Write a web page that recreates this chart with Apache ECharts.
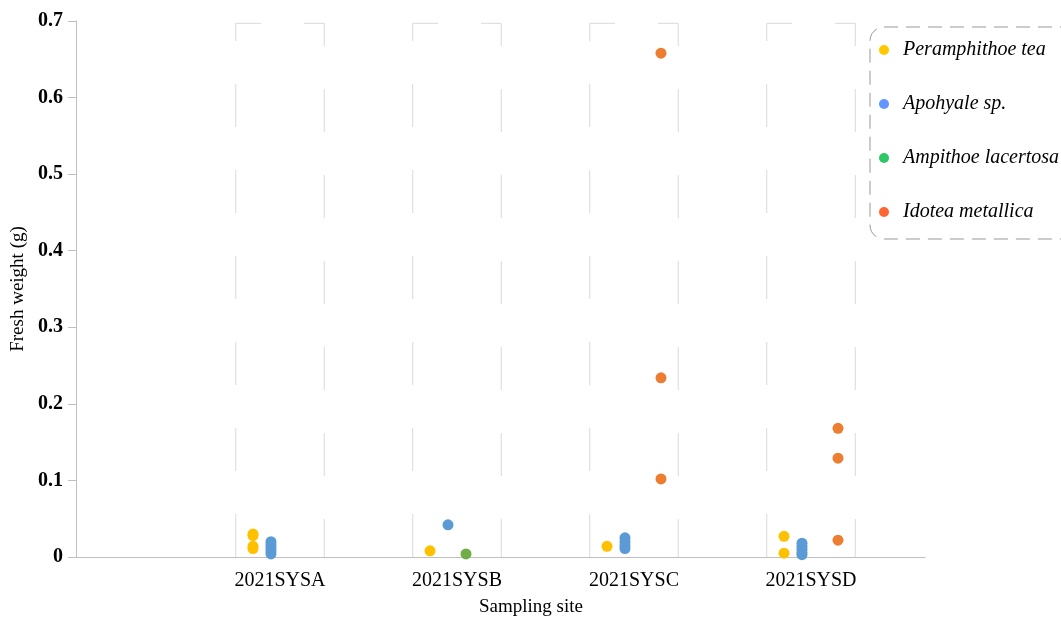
<!DOCTYPE html>
<html>
<head>
<meta charset="utf-8">
<script src="https://cdn.jsdelivr.net/npm/echarts@6/dist/echarts.min.js"></script>
<style>html,body{margin:0;padding:0;background:#fff;}#chart{width:1061px;height:619px;}</style>
</head>
<body>
<div id="chart"></div>
<script>
// ---- data ----
const categories = ['2021SYSA', '2021SYSB', '2021SYSC', '2021SYSD'];
const speciesNames = ['Peramphithoe tea', 'Apohyale sp.', 'Ampithoe lacertosa', 'Idotea metallica'];
// values per sampling site (one inner list per category)
const peramphithoeTea = [[0.030, 0.028, 0.014, 0.011], [0.008], [0.014], [0.027, 0.005]];
const apohyaleSp = [[0.020, 0.016, 0.012, 0.008, 0.004], [0.042], [0.025, 0.020, 0.015, 0.011], [0.018, 0.014, 0.010, 0.006, 0.003]];
const ampithoeLacertosa = [[], [0.004], [], []];
const idoteaMetallica = [[], [], [0.658, 0.234, 0.102], [0.168, 0.129, 0.022]];
const yTicks = [0, 0.1, 0.2, 0.3, 0.4, 0.5, 0.6, 0.7];

// ---- styling / layout ----
const pointColors = ['#FFC000', '#5B9BD5', '#70AD47', '#ED7D31'];
const legendColors = ['#FFC800', '#6496FF', '#2DC864', '#FF6633'];
const offsets = [-0.1525, -0.051, 0.051, 0.1525];
const boxHalf = 0.25;
const boxTop = 0.697;
const serif = '"Liberation Serif", "Times New Roman", serif';

const allValues = [peramphithoeTea, apohyaleSp, ampithoeLacertosa, idoteaMetallica];

const series = [];
categories.forEach((c, i) => {
  series.push({
    name: '_box' + i,
    type: 'line',
    xAxisIndex: 0, yAxisIndex: 0,
    data: [[i - boxHalf, 0], [i - boxHalf, boxTop], [i + boxHalf, boxTop], [i + boxHalf, 0]],
    symbol: 'none',
    silent: true,
    z: 1,
    lineStyle: { color: '#d9d9d9', width: 1, type: [43, 43] },
    animation: false
  });
});
speciesNames.forEach((name, s) => {
  const data = [];
  allValues[s].forEach((vals, ci) => {
    vals.forEach(v => data.push([ci + offsets[s], v]));
  });
  series.push({
    name: name,
    type: 'scatter',
    xAxisIndex: 0, yAxisIndex: 0,
    data: data,
    symbol: 'circle',
    symbolSize: 11,
    z: 3,
    itemStyle: { color: pointColors[s], opacity: 1 },
    animation: false
  });
});

const chart = echarts.init(document.getElementById('chart'), null, { renderer: 'canvas' });
chart.setOption({
  backgroundColor: '#fff',
  animation: false,
  grid: [
    { left: 76, right: 136, top: 21, bottom: 62, containLabel: false, outerBoundsMode: 'none' },
    { left: 191.5, width: 708, top: 21, bottom: 62, containLabel: false, outerBoundsMode: 'none' }
  ],
  xAxis: [
    {
      type: 'value', gridIndex: 0,
      min: -1.1525, max: 3.644,
      axisLine: { show: true, onZero: false, lineStyle: { color: '#bfbfbf', width: 1 } },
      axisTick: { show: false },
      axisLabel: { show: false },
      splitLine: { show: false }
    },
    {
      type: 'category', gridIndex: 1,
      data: categories,
      boundaryGap: true,
      axisLine: { show: false },
      axisTick: { show: false },
      axisLabel: { color: '#000', fontFamily: serif, fontSize: 20, margin: 14 },
      splitLine: { show: false }
    }
  ],
  yAxis: [
    {
      type: 'value', gridIndex: 0,
      min: yTicks[0], max: yTicks[yTicks.length - 1], interval: 0.1,
      name: 'Fresh weight (g)',
      nameLocation: 'middle',
      nameGap: 46,
      nameTextStyle: { color: '#000', fontFamily: serif, fontSize: 19 },
      axisLine: { show: true, onZero: false, lineStyle: { color: '#bfbfbf', width: 1 } },
      axisTick: { show: true, inside: false, length: 8, lineStyle: { color: '#bfbfbf' } },
      axisLabel: { color: '#000', fontFamily: serif, fontSize: 20, fontWeight: 'bold', margin: 13,
        formatter: v => String(Math.round(v * 10) / 10) },
      splitLine: { show: false }
    },
    { type: 'value', gridIndex: 1, show: false, min: 0, max: 0.7 }
  ],
  legend: {
    data: speciesNames.map((n, i) => ({ name: n, itemStyle: { color: legendColors[i] } })),
    orient: 'vertical',
    left: 870, top: 27,
    padding: [13, 40, 17, 9],
    itemGap: 34,
    itemWidth: 10, itemHeight: 10,
    icon: 'circle',
    borderColor: '#999',
    borderWidth: 1,
    borderType: [14, 8],
    borderRadius: 14,
    textStyle: { color: '#000', fontFamily: serif, fontSize: 20, fontStyle: 'italic', lineHeight: 18, padding: [0, 0, 0, 9] },
    selectedMode: false
  },
  graphic: [
    { type: 'text', x: 531, y: 607, style: { text: 'Sampling site', fill: '#000', font: '19px ' + serif, textAlign: 'center', textVerticalAlign: 'middle' } }
  ],
  series: series
});
</script>
</body>
</html>
